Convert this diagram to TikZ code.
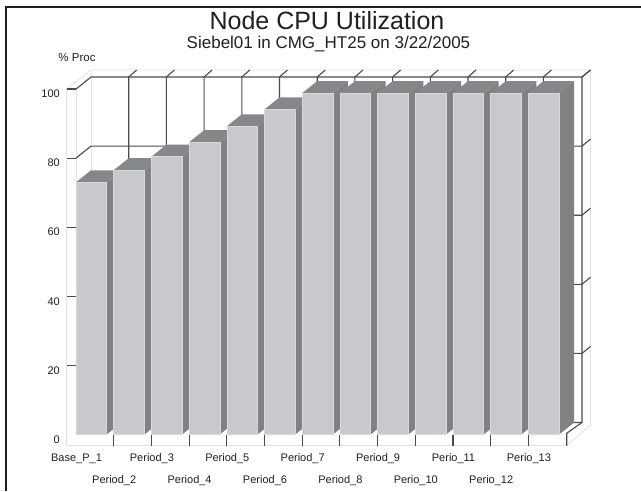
\documentclass[tikz,border=0pt]{standalone}
\usepackage{fontspec}
\setmainfont{Liberation Sans}
\definecolor{frontgray}{HTML}{C8C9CD}
\definecolor{frontedge}{HTML}{D8D9DB}
\definecolor{sidegray}{HTML}{7F8282}
\definecolor{topgray}{HTML}{858888}
\definecolor{gridgray}{HTML}{4A4A4A}
\definecolor{faintgray}{HTML}{E2E2E2}
\definecolor{textgray}{HTML}{202020}
\begin{document}
\begin{tikzpicture}[x=1pt,y=-1pt,
  grid/.style={draw=gridgray,line width=1.1pt},
  faint/.style={draw=faintgray,line width=0.8pt},
  frontface/.style={fill=frontgray,draw=frontedge,line width=0.6pt},
  sideface/.style={fill=sidegray},
  topface/.style={fill=topgray},
  ylabel/.style={anchor=east,inner sep=0pt,text=textgray,font=\fontsize{11}{13}\selectfont},
  catlabel/.style={anchor=center,inner sep=0pt,text=textgray,font=\fontsize{11}{13}\selectfont},
  frame/.style={draw=black!88,line width=2.5pt}]
\useasboundingbox (0,0) rectangle (641,491);
\fill[white] (0,0) rectangle (641,491);

% outer frame (top and left edges)
\draw[frame] (641,7) -- (6,7) -- (6,491);

% titles
\node[inner sep=0pt,text=textgray,font=\fontsize{25}{28}\selectfont] (title) at (327,21) {Node CPU Utilization};
\node[inner sep=0pt,text=textgray,font=\fontsize{17}{19}\selectfont] (subtitle) at (328.5,44.5) {Siebel01 in CMG\_HT25 on 3/22/2005};
\node[inner sep=0pt,text=textgray,font=\fontsize{11.5}{13}\selectfont] (yunit) at (77,58) {\% Proc};

% light outline of the 3D box
\draw[faint] (66.5,89) -- (66.5,445.5) -- (566.7,445.5);
\draw[faint] (66.5,89) -- (90.5,70) -- (590.5,70) -- (590.5,425) -- (566.7,445.5);
\draw[faint] (76.5,89) -- (76.5,434);
\draw[faint] (91,70) -- (91,422.5);

% value gridlines: left wall, back wall, right ticks
\foreach \v in {0,20,40,60,80,100}{
  \pgfmathsetmacro\yf{434.5-3.455*\v}
  \pgfmathsetmacro\yb{\yf-12}
  \draw[grid] (76,\yf) -- (91,\yb) -- (582,\yb);
  \ifnum\v>0
    \draw[grid] (66.5,\yf) -- (76,\yf);
    \draw[grid] (582,\yb) -- (590.5,\yb-7);
  \fi
}
% category gridlines on the back wall
\foreach \j in {0,...,11}{
  \pgfmathsetmacro\xb{128.7+37.7*\j}
  \draw[grid] (\xb,422.5) -- (\xb,77) -- (\xb+8,70);
}
% right edge of the back wall and floor corner
\draw[grid] (590.5,70) -- (582,77) -- (582,422.5) -- (566.7,433.3) -- (566.7,445.5);
% category ticks below the floor
\foreach \j in {0,...,11}{
  \pgfmathsetmacro\xt{113.7+37.7*\j}
  \draw[grid] (\xt,435) -- (\xt,445.5);
}

% bars, drawn left to right so each one overlaps its neighbour's side
\foreach \v [count=\k] in {73,76.5,80.4,84.6,89.2,94.1,98.8,98.8,98.8,98.8,98.8,98.8,98.8}{
  \pgfmathsetmacro\xa{76+37.7*(\k-1)}
  \pgfmathsetmacro\xc{\xa+30.7}
  \pgfmathsetmacro\yt{434.5-3.455*\v}
  \fill[sideface] (\xc,434.5) -- (\xc,\yt) -- (\xc+15,\yt-12) -- (\xc+15,422.5) -- cycle;
  \fill[topface] (\xa,\yt) -- (\xc,\yt) -- (\xc+15,\yt-12) -- (\xa+15,\yt-12) -- cycle;
  \path[frontface] (\xa,\yt) rectangle (\xc,434.5);
}

% value axis labels
\foreach \v in {0,20,40,60,80,100}{
  \pgfmathsetmacro\yl{434.5-3.455*\v+5}
  \node[ylabel] (val\v) at (60,\yl) {\v};
}

% category labels, alternating rows
\foreach \name [count=\k] in {Base\_P\_1,Period\_2,Period\_3,Period\_4,Period\_5,Period\_6,Period\_7,Period\_8,Period\_9,Perio\_10,Perio\_11,Perio\_12,Perio\_13}{
  \pgfmathsetmacro\xl{76.5+37.7*(\k-1)}
  \ifodd\k
    \node[catlabel] (cat\k) at (\xl,459) {\name};
  \else
    \node[catlabel] (cat\k) at (\xl,481) {\name};
  \fi
}
\end{tikzpicture}
\end{document}
